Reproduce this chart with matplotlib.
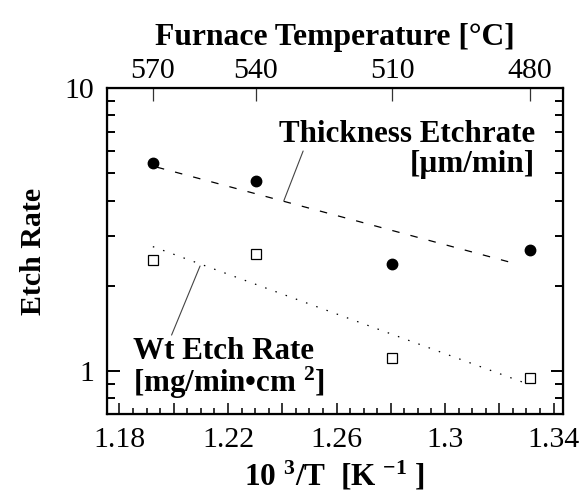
import numpy as np
import matplotlib
matplotlib.use("Agg")
import matplotlib.pyplot as plt
from matplotlib.ticker import FixedLocator, MultipleLocator, NullFormatter

plt.rcParams["font.family"] = ["Liberation Serif", "DejaVu Serif"]
plt.rcParams["mathtext.fontset"] = "custom"
plt.rcParams["mathtext.rm"] = "Liberation Serif:bold"
plt.rcParams["mathtext.bf"] = "Liberation Serif:bold"
plt.rcParams["mathtext.it"] = "Liberation Serif:bold"

# 1000/T positions of the four runs
inv_T = [1.1923, 1.2303, 1.2805, 1.3314]
furnace_T = ["570", "540", "510", "480"]

thickness_rate = [5.43, 4.69, 2.39, 2.68]   # um/min
weight_rate = [2.47, 2.59, 1.11, 0.945]      # mg/min cm^2

# extent of the drawn fit lines
thick_fit_x = [1.1938, 1.3269]
wt_fit_x = [1.1923, 1.3284]

x_ticks = [1.18, 1.20, 1.22, 1.24, 1.26, 1.28, 1.30, 1.32, 1.34]
x_labels = ["1.18", "", "1.22", "", "1.26", "", "1.3", "", "1.34"]

fig = plt.figure(figsize=(5.79, 4.92), dpi=100)
ax = fig.add_axes([0.1848, 0.1585, 0.7876, 0.6626])

ax.plot(inv_T, thickness_rate, "o", color="black", ms=7.5, zorder=3)
ax.plot(inv_T, weight_rate, "s", mfc="white", mec="black", mew=0.9, ms=7.5, zorder=3)

# exponential fits (straight lines in log space)
k1 = np.polyfit(inv_T, np.log10(thickness_rate), 1)
xx = np.array(thick_fit_x)
ax.plot(xx, 10 ** np.polyval(k1, xx), color="black", lw=0.9, dashes=(6, 9))
k2 = np.polyfit(inv_T, np.log10(weight_rate), 1)
xx = np.array(wt_fit_x)
ax.plot(xx, 10 ** np.polyval(k2, xx), color="black", lw=0.9, dashes=(1.2, 7.5))

ax.set_yscale("log")
ax.set_xlim(1.1754, 1.3435)
ax.set_ylim(0.705, 10)

ax.set_xticks(x_ticks, x_labels)
ax.xaxis.set_minor_locator(MultipleLocator(0.005))
ax.yaxis.set_major_locator(FixedLocator([1, 10]))
ax.set_yticklabels(["1", "10"])
ax.yaxis.set_minor_locator(FixedLocator([0.8, 0.9, 2, 3, 4, 5, 6, 7, 8, 9]))
ax.yaxis.set_minor_formatter(NullFormatter())

ax.tick_params(axis="x", which="both", direction="in", top=False, labelsize=21.5, pad=9)
ax.tick_params(axis="x", which="major", length=8, width=1.1)
ax.tick_params(axis="x", which="minor", length=4.5, width=1.1)
ax.tick_params(axis="y", which="both", direction="in", right=True, labelsize=21.5, pad=9)
ax.tick_params(axis="y", which="major", length=9, width=1.4)
ax.tick_params(axis="y", which="minor", length=5.5, width=1.4)
for s in ax.spines.values():
    s.set_linewidth(1.6)

ax.set_xlabel("10 $^{3}$/T  [K $^{-1}$ ]", fontsize=22.5, fontweight="bold", labelpad=5)
ax.set_ylabel("Etch Rate", fontsize=21.5, fontweight="bold", labelpad=13)

top = ax.twiny()
top.set_xlim(ax.get_xlim())
top.set_xticks(inv_T, furnace_T)
top.tick_params(axis="x", direction="in", length=9, width=0.9, color="#333333",
                labelsize=21.5, pad=3)
top.set_xlabel("Furnace Temperature [°C]", fontsize=22.8, fontweight="bold", labelpad=9)

ax.text(1.3332, 6.45, "Thickness Etchrate", ha="right", va="baseline",
        fontsize=22.3, fontweight="bold")
ax.text(1.3332, 5.05, "[µm/min]", ha="right", va="baseline",
        fontsize=22.3, fontweight="bold")
ax.annotate("", xy=(1.2406, 4.0), xytext=(1.2477, 5.99),
            arrowprops=dict(arrowstyle="-", color="#444444", lw=0.8, shrinkA=0, shrinkB=0))

ax.text(1.185, 1.10, "Wt Etch Rate", ha="left", va="baseline",
        fontsize=22.3, fontweight="bold")
ax.text(1.185, 0.843, "[mg/min•cm $^{2}$]", ha="left", va="baseline",
        fontsize=22.3, fontweight="bold")
ax.annotate("", xy=(1.2097, 2.35), xytext=(1.1992, 1.34),
            arrowprops=dict(arrowstyle="-", color="#444444", lw=0.8, shrinkA=0, shrinkB=0))

fig.savefig("out.png", dpi=100)
